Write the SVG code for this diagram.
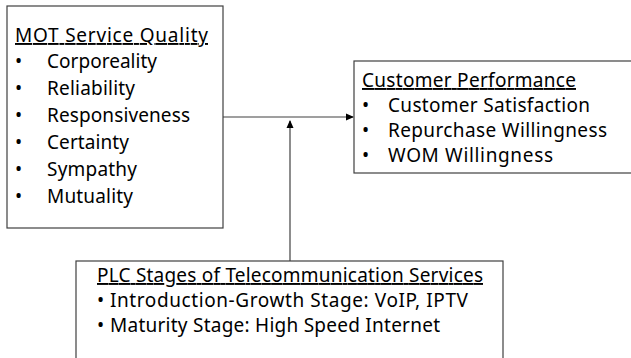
<svg xmlns="http://www.w3.org/2000/svg" width="631" height="358" viewBox="0 0 631 358">
<style>
.box{fill:#fff;stroke:#404040;stroke-width:1.2}
text{font-family:"Noto Sans","DejaVu Sans",sans-serif;font-size:19px;fill:#000}
.t{text-decoration:underline}
.c{stroke:#404040;stroke-width:1.2;fill:none}
</style>
<defs>
<marker id="ah" markerWidth="8" markerHeight="8" refX="7" refY="4" orient="auto" markerUnits="userSpaceOnUse">
<path d="M0,0.5 L8,4 L0,7.5 Z" fill="#000"/>
</marker>
</defs>
<g id="connectors">
<path class="c" d="M223,117 H353" marker-end="url(#ah)"/>
<path class="c" d="M290,261 V121" marker-end="url(#ah)"/>
</g>
<g id="mot">
<rect class="box" x="7" y="6" width="216" height="222"/>
<text class="t" x="15" y="42" textLength="193" lengthAdjust="spacing">MOT Service Quality</text>
<text x="15" y="68">•</text><text x="47" y="68" textLength="110" lengthAdjust="spacing">Corporeality</text>
<text x="15" y="95">•</text><text x="47" y="95" textLength="88" lengthAdjust="spacing">Reliability</text>
<text x="15" y="122">•</text><text x="47" y="122" textLength="143" lengthAdjust="spacing">Responsiveness</text>
<text x="15" y="149">•</text><text x="47" y="149" textLength="82" lengthAdjust="spacing">Certainty</text>
<text x="15" y="176">•</text><text x="47" y="176" textLength="90" lengthAdjust="spacing">Sympathy</text>
<text x="15" y="203">•</text><text x="47" y="203" textLength="86" lengthAdjust="spacing">Mutuality</text>
</g>
<g id="customer">
<rect class="box" x="354" y="61" width="290" height="112"/>
<text class="t" x="362" y="87" textLength="214" lengthAdjust="spacing">Customer Performance</text>
<text x="362" y="112">•</text><text x="388" y="112" textLength="202" lengthAdjust="spacing">Customer Satisfaction</text>
<text x="362" y="137">•</text><text x="388" y="137" textLength="219" lengthAdjust="spacing">Repurchase Willingness</text>
<text x="362" y="162">•</text><text x="388" y="162" textLength="165" lengthAdjust="spacing">WOM Willingness</text>
</g>
<g id="plc">
<rect class="box" x="76" y="261" width="427" height="120"/>
<text class="t" x="97" y="282" textLength="386" lengthAdjust="spacing">PLC Stages of Telecommunication Services</text>
<text x="97" y="307">•</text><text x="110" y="307" textLength="358" lengthAdjust="spacing">Introduction-Growth Stage: VoIP, IPTV</text>
<text x="97" y="332">•</text><text x="110" y="332" textLength="330" lengthAdjust="spacing">Maturity Stage: High Speed Internet</text>
</g>
</svg>
